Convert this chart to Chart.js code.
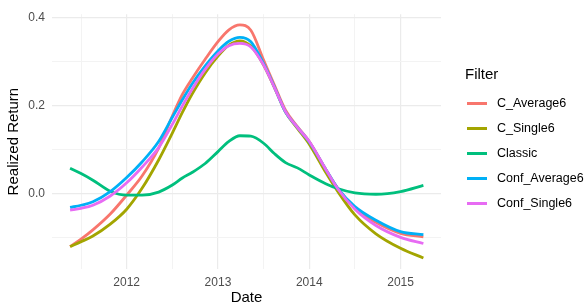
<!DOCTYPE html>
<html>
<head>
<meta charset="utf-8">
<script src="https://cdn.jsdelivr.net/npm/chart.js@4.4.1/dist/chart.umd.min.js"></script>
<style>
  html, body { margin: 0; padding: 0; background: #fff; }
  #wrap { width: 587px; height: 307px; }
</style>
</head>
<body>
<div id="wrap"><canvas id="chart" width="587" height="307"></canvas></div>
<script>
// Dates as decimal years
const dates = [2011.38, 2011.5, 2011.63, 2011.82, 2012.0, 2012.17, 2012.35, 2012.5, 2012.61, 2012.72,
  2012.86, 2013.0, 2013.12, 2013.24, 2013.36, 2013.5, 2013.62, 2013.74, 2013.87, 2014.0,
  2014.18, 2014.31, 2014.5, 2014.73, 2015.0, 2015.25];

const cAverage6 = [-0.121, -0.104, -0.083, -0.047, -0.004, 0.040, 0.103, 0.176, 0.225, 0.262,
  0.305, 0.345, 0.372, 0.383, 0.371, 0.303, 0.245, 0.189, 0.152, 0.118,
  0.055, 0.012, -0.034, -0.066, -0.091, -0.099];
const cSingle6 = [-0.121, -0.110, -0.097, -0.070, -0.036, 0.012, 0.076, 0.137, 0.184, 0.227,
  0.274, 0.312, 0.337, 0.347, 0.335, 0.292, 0.240, 0.185, 0.148, 0.112,
  0.048, 0.005, -0.049, -0.092, -0.125, -0.147];
const classic = [0.057, 0.045, 0.030, 0.005, -0.004, -0.004, 0.003, 0.019, 0.035, 0.048,
  0.068, 0.095, 0.118, 0.131, 0.130, 0.114, 0.090, 0.070, 0.058, 0.042,
  0.022, 0.011, 0.001, -0.002, 0.004, 0.018];
const confAverage6 = [-0.032, -0.027, -0.019, 0.004, 0.036, 0.072, 0.118, 0.173, 0.213, 0.250,
  0.290, 0.324, 0.346, 0.355, 0.345, 0.295, 0.241, 0.185, 0.150, 0.117,
  0.055, 0.012, -0.030, -0.061, -0.087, -0.094];
const confSingle6 = [-0.038, -0.034, -0.027, -0.006, 0.024, 0.060, 0.104, 0.157, 0.199, 0.238,
  0.282, 0.317, 0.336, 0.341, 0.333, 0.292, 0.240, 0.186, 0.150, 0.118,
  0.055, 0.011, -0.036, -0.073, -0.100, -0.114];

const seriesNames = ['C_Average6', 'C_Single6', 'Classic', 'Conf_Average6', 'Conf_Single6'];
const seriesValues = [cAverage6, cSingle6, classic, confAverage6, confSingle6];
const seriesColors = ['#F8766D', '#A3A500', '#00BF7D', '#00B0F6', '#E76BF3'];

// Grid breaks (major + minor) and labelled ticks
const xBreaks = [2011.5, 2012, 2012.5, 2013, 2013.5, 2014, 2014.5, 2015];
const xLabels = [2012, 2013, 2014, 2015];
const yBreaks = [-0.1, 0.0, 0.1, 0.2, 0.3, 0.4];
const yLabels = [0.0, 0.2, 0.4];

const FONT = "'Liberation Sans', Arial, sans-serif";

const datasets = seriesNames.map((name, i) => ({
  label: name,
  data: dates.map((d, j) => ({ x: d, y: seriesValues[i][j] })),
  borderColor: seriesColors[i],
  backgroundColor: seriesColors[i],
  borderWidth: 2.8,
  pointRadius: 0,
  cubicInterpolationMode: 'monotone',
  fill: false,
  order: seriesNames.length - i
}));

// ggplot-like legend on the right
const legendPlugin = {
  id: 'sideLegend',
  afterDraw(chart) {
    const ctx = chart.ctx;
    ctx.save();
    ctx.fillStyle = '#000';
    ctx.font = '15px ' + FONT;
    ctx.textBaseline = 'middle';
    ctx.fillText('Filter', 465, 75);
    ctx.font = '12.5px ' + FONT;
    chart.data.datasets.forEach((ds, i) => {
      const y = 103.5 + i * 25;
      ctx.strokeStyle = ds.borderColor;
      ctx.lineWidth = 3;
      ctx.beginPath();
      ctx.moveTo(467, y);
      ctx.lineTo(487, y);
      ctx.stroke();
      ctx.fillStyle = '#000';
      ctx.fillText(ds.label, 497, y);
    });
    ctx.restore();
  }
};

new Chart(document.getElementById('chart'), {
  type: 'line',
  data: { datasets },
  options: {
    responsive: false,
    animation: false,
    layout: { padding: { top: 14, right: 146, left: 0, bottom: 0 } },
    plugins: { legend: { display: false }, tooltip: { enabled: false } },
    scales: {
      x: {
        type: 'linear',
        min: 2011.182,
        max: 2015.443,
        afterBuildTicks: axis => { axis.ticks = xBreaks.map(v => ({ value: v })); },
        afterFit: axis => { axis.height = 38; },
        border: { display: false },
        grid: {
          drawTicks: false,
          color: c => (c.tick && xLabels.includes(c.tick.value)) ? '#ebebeb' : '#f3f3f3',
          lineWidth: c => (c.tick && xLabels.includes(c.tick.value)) ? 1.2 : 1
        },
        ticks: {
          autoSkip: false,
          maxRotation: 0,
          padding: 6,
          color: '#4d4d4d',
          font: { family: FONT, size: 12 },
          callback: v => xLabels.includes(v) ? String(v) : ''
        },
        title: {
          display: true,
          text: 'Date',
          color: '#000',
          font: { family: FONT, size: 15 },
          padding: { top: 0, bottom: 0 }
        }
      },
      y: {
        min: -0.172,
        max: 0.4075,
        afterBuildTicks: axis => { axis.ticks = yBreaks.map(v => ({ value: v })); },
        afterFit: axis => { axis.width = 52; },
        border: { display: false },
        grid: {
          drawTicks: false,
          color: c => (c.tick && Math.round(c.tick.value * 10) % 2 === 0) ? '#ebebeb' : '#f3f3f3',
          lineWidth: c => (c.tick && Math.round(c.tick.value * 10) % 2 === 0) ? 1.2 : 1
        },
        ticks: {
          padding: 7,
          color: '#4d4d4d',
          font: { family: FONT, size: 12 },
          callback: v => yLabels.some(l => Math.abs(l - v) < 1e-9) ? v.toFixed(1) : ''
        },
        title: {
          display: true,
          text: 'Realized Return',
          color: '#000',
          font: { family: FONT, size: 15 },
          padding: { top: 5, bottom: 0 }
        }
      }
    }
  },
  plugins: [legendPlugin]
});
</script>
</body>
</html>
